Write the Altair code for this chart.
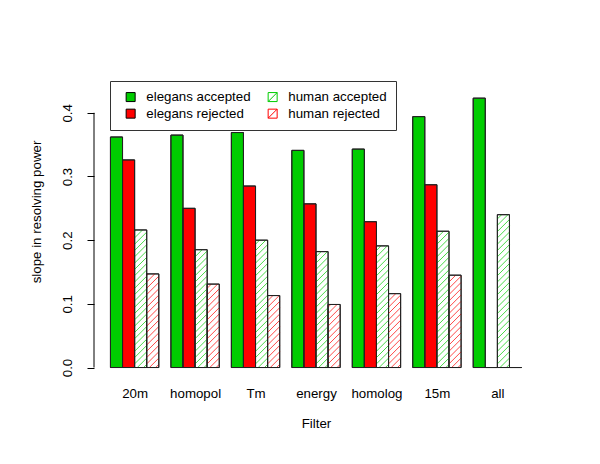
import json
import altair as alt
import pandas as pd

# ---- data ----
filters = ["20m", "homopol", "Tm", "energy", "homolog", "15m", "all"]
series_names = ["elegans accepted", "elegans rejected", "human accepted", "human rejected"]
elegans_accepted = [0.362, 0.365, 0.369, 0.341, 0.343, 0.394, 0.423]
elegans_rejected = [0.326, 0.250, 0.285, 0.257, 0.229, 0.287, 0.0]
human_accepted = [0.216, 0.185, 0.200, 0.182, 0.191, 0.214, 0.240]
human_rejected = [0.147, 0.131, 0.113, 0.099, 0.116, 0.145, 0.0]
y_ticks = [0.0, 0.1, 0.2, 0.3, 0.4]

GREEN = "#00CD00"
RED = "#FF0000"
FONT = "Liberation Sans"
FS = 13.3

# plot area (R barplot style: beside=TRUE, space=c(0,1), 4% axis extension)
W, H = 444, 337
n_groups = len(filters)
x_lo, x_hi = 1.0, n_groups * 5.0
x_ext = 0.04 * (x_hi - x_lo)
x_domain = [x_lo - x_ext, x_hi + x_ext]
y_lim = [0.0, 0.49]
y_ext = 0.04 * (y_lim[1] - y_lim[0])
y_domain = [y_lim[0] - y_ext, y_lim[1] + y_ext]

values = [elegans_accepted, elegans_rejected, human_accepted, human_rejected]
rows = []
for g, f in enumerate(filters):
    for j, s in enumerate(series_names):
        left = g * 5 + 1 + j
        rows.append({"filter": f, "series": s, "value": values[j][g],
                     "x0": left, "x1": left + 1})
df = pd.DataFrame(rows)

# hatch lines (45 degrees on screen) for the human series
px_x = W / (x_domain[1] - x_domain[0])
px_y = H / (y_domain[1] - y_domain[0])
spacing = 6.3
hrows = []
for r in rows:
    if not r["series"].startswith("human"):
        continue
    bw = px_x * (r["x1"] - r["x0"])
    hp = r["value"] * px_y
    c = -bw + spacing / 2
    while c < hp:
        u0 = max(0.0, -c)
        u1 = min(bw, hp - c)
        if u1 - u0 > 0.3:
            hrows.append({"series": r["series"],
                          "hx": r["x0"] + u0 / px_x, "hy": (u0 + c) / px_y,
                          "hx2": r["x0"] + u1 / px_x, "hy2": (u1 + c) / px_y})
        c += spacing
hdf = pd.DataFrame(hrows)

xscale = alt.Scale(domain=x_domain, nice=False, zero=False)
yscale = alt.Scale(domain=y_domain, nice=False, zero=False)

group_centers = [g * 5 + 3 for g in range(n_groups)]
label_expr = json.dumps(filters) + "[round((datum.value - 3) / 5)]"

x_axis = alt.Axis(values=group_centers, labelExpr=label_expr, ticks=False, domain=False,
                  grid=False, labelFlush=False, labelOverlap=False, labelPadding=6,
                  title="Filter", titlePadding=17)
y_axis = alt.Axis(values=y_ticks, format=".1f", labelAngle=270, labelAlign="center",
                  labelBaseline="bottom", labelPadding=13, tickSize=7, domain=False,
                  grid=False, title="slope in resolving power", titlePadding=17)

fill_cond = {
    "condition": [
        {"test": "datum.series == 'elegans accepted'", "value": GREEN},
        {"test": "datum.series == 'elegans rejected'", "value": RED},
    ],
    "value": "white",
}

bars = alt.Chart(df).mark_bar(stroke="#222222", strokeWidth=1).encode(
    x=alt.X("x0:Q", scale=xscale, axis=x_axis),
    x2="x1:Q",
    y=alt.Y("value:Q", scale=yscale, axis=y_axis),
    y2=alt.datum(0),
    fill=fill_cond,
)

hatch = alt.Chart(hdf).mark_rule(strokeWidth=0.9, opacity=0.8).encode(
    x=alt.X("hx:Q", scale=xscale),
    x2="hx2:Q",
    y=alt.Y("hy:Q", scale=yscale),
    y2="hy2:Q",
    stroke=alt.condition("datum.series == 'human accepted'", alt.value(GREEN), alt.value(RED)),
)

outline = alt.Chart(df).mark_bar(filled=False, stroke="#222222", strokeWidth=1).encode(
    x=alt.X("x0:Q", scale=xscale),
    x2="x1:Q",
    y=alt.Y("value:Q", scale=yscale),
    y2=alt.datum(0),
)

axis_line = alt.Chart(pd.DataFrame({"lo": [min(y_ticks)], "hi": [max(y_ticks)]})).mark_rule(
    color="black", strokeWidth=1).encode(
    x=alt.value(0),
    y=alt.Y("lo:Q", scale=yscale),
    y2="hi:Q",
)

hatch_path = "M-1,-1L1,-1L1,1L-1,1Z M-1,1L1,-1"
legend_order = ["elegans accepted", "human accepted", "elegans rejected", "human rejected"]
fill_map = {"elegans accepted": GREEN, "elegans rejected": RED,
            "human accepted": "white", "human rejected": "white"}
stroke_map = {"elegans accepted": "black", "elegans rejected": "black",
              "human accepted": GREEN, "human rejected": RED}
shape_map = {"elegans accepted": "square", "elegans rejected": "square",
             "human accepted": hatch_path, "human rejected": hatch_path}

legend_layer = alt.Chart(df).mark_point(filled=True, strokeWidth=1, opacity=1).encode(
    fill=alt.Fill("series:N", title=None,
                  scale=alt.Scale(domain=legend_order, range=[fill_map[s] for s in legend_order])),
    stroke=alt.Stroke("series:N", title=None,
                      scale=alt.Scale(domain=legend_order, range=[stroke_map[s] for s in legend_order])),
    shape=alt.Shape("series:N", title=None,
                    scale=alt.Scale(domain=legend_order, range=[shape_map[s] for s in legend_order])),
).transform_filter("false")

chart = alt.layer(bars, hatch, outline, axis_line, legend_layer).properties(
    width=W, height=H, autosize="none",
    padding={"left": 86, "top": 35, "right": 54, "bottom": 76},
).configure(font=FONT).configure_view(stroke=None).configure_axis(
    labelFont=FONT, titleFont=FONT, labelFontSize=FS, titleFontSize=FS,
    labelColor="black", titleColor="black", tickColor="black", titleFontWeight="normal",
).configure_legend(
    orient="none", legendX=16, legendY=38, columns=2, direction="horizontal",
    strokeColor="#333333", fillColor="white", padding=9, symbolOffset=5,
    labelFont=FONT, labelFontSize=FS, labelColor="black", labelOffset=9,
    columnPadding=10, rowPadding=2, symbolSize=81, symbolStrokeWidth=1,
    symbolOpacity=1, cornerRadius=0,
)

chart.save("out.html", embed_options={"renderer": "svg", "actions": False})
